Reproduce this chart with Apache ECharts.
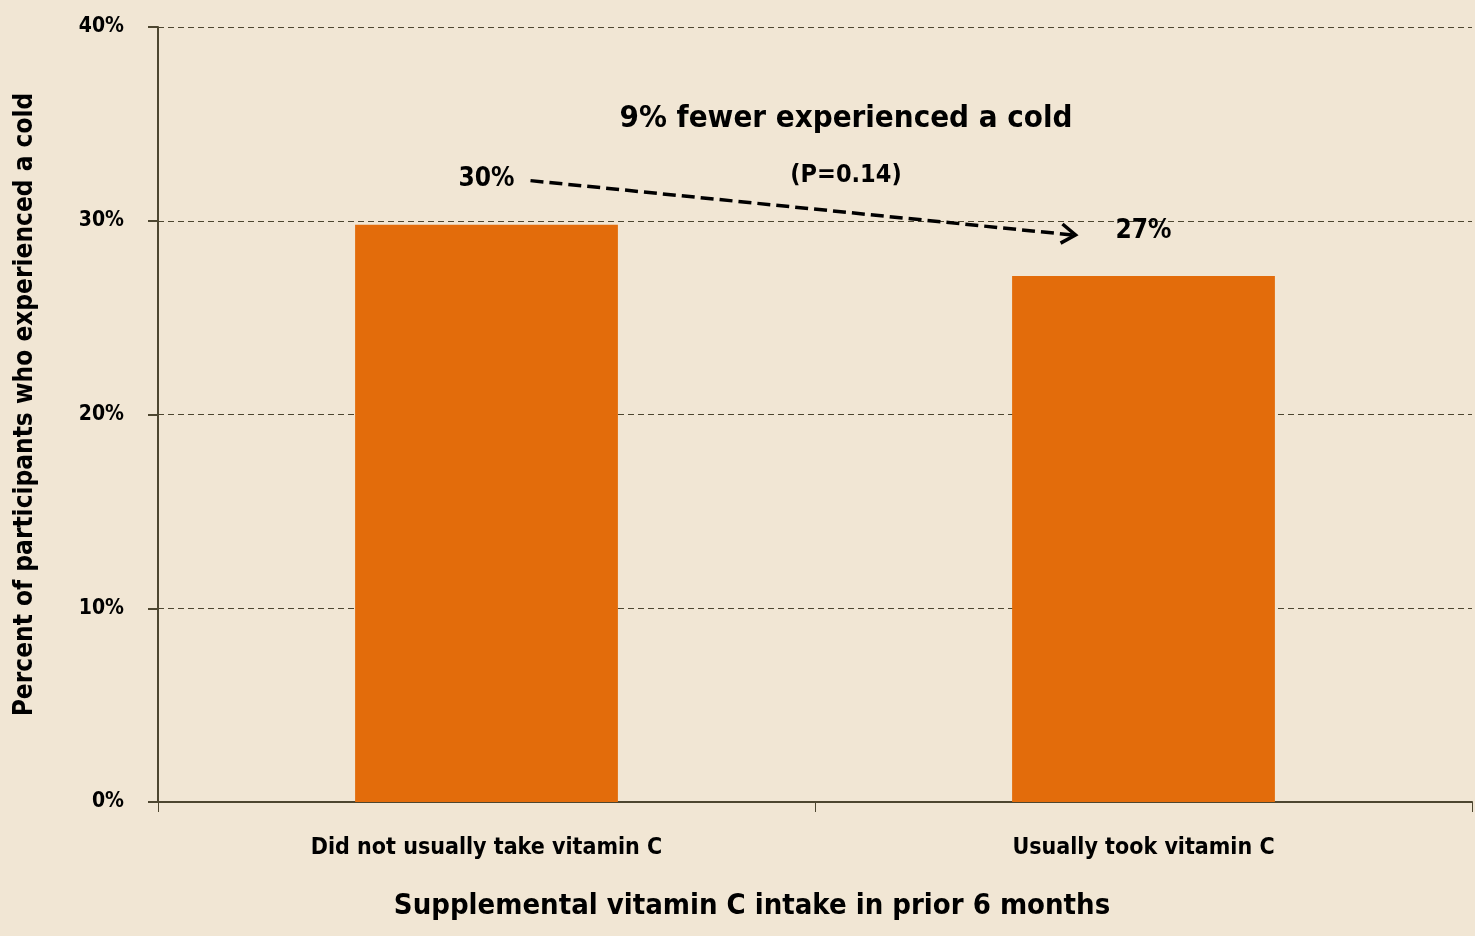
<!DOCTYPE html>
<html>
<head>
<meta charset="utf-8">
<script src="https://cdn.jsdelivr.net/npm/echarts@6/dist/echarts.min.js"></script>
<style>
html,body{margin:0;padding:0;background:#f1e6d4;}
#c{width:1475px;height:936px;}
</style>
</head>
<body>
<div id="c"></div>
<script>
const categories = ['Did not usually take vitamin C', 'Usually took vitamin C'];
const values = [29.8, 27.15];
const valueLabels = ['30%', '27%'];
const yTicks = [0, 10, 20, 30, 40];
const titleText = '9% fewer experienced a cold';
const subText = '(P=0.14)';
const yName = 'Percent of participants who experienced a cold';
const xName = 'Supplemental vitamin C intake in prior 6 months';

const FONT = '"Liberation Sans Narrow", "DejaVu Sans Condensed", sans-serif';
const AX = '#4d4630';
const chart = echarts.init(document.getElementById('c'), null, {renderer: 'canvas'});
const option = {
  backgroundColor: '#f1e6d4',
  animation: false,
  textStyle: {fontFamily: FONT},
  title: [
    {text: titleText, left: 841, top: 98, textAlign: 'center',
     textStyle: {fontFamily: FONT, fontSize: 31, fontWeight: 'bold', color: '#000'}},
    {text: subText, left: 841, top: 158, textAlign: 'center',
     textStyle: {fontFamily: FONT, fontSize: 25, fontWeight: 'bold', color: '#000'}}
  ],
  grid: {left: 158, right: 3, top: 27, bottom: 134, outerBoundsMode: 'none'},
  xAxis: {
    type: 'category', data: categories,
    axisLine: {lineStyle: {color: AX, width: 2}},
    axisTick: {show: true, length: 10, lineStyle: {color: AX, width: 1}},
    axisLabel: {color: '#000', fontSize: 23, fontWeight: 'bold', fontFamily: FONT, margin: 35},
    name: xName, nameLocation: 'middle', nameGap: 90,
    nameTextStyle: {color: '#000', fontSize: 29, fontWeight: 'bold', fontFamily: FONT,
      padding: [0, 126, 0, 0]}
  },
  yAxis: {
    type: 'value', min: 0, max: 40, interval: 10,
    axisLine: {show: true, lineStyle: {color: AX, width: 2}},
    axisTick: {show: true, length: 10, lineStyle: {color: AX, width: 2}},
    axisLabel: {color: '#000', fontSize: 21, fontWeight: 'bold', fontFamily: FONT, margin: 34,
      formatter: v => (yTicks.includes(v) ? v + '%' : '')},
    splitLine: {show: true, lineStyle: {color: AX, type: [6, 4], width: 1.2}},
    name: yName, nameLocation: 'middle', nameGap: 120, nameRotate: 90,
    nameTextStyle: {color: '#000', fontSize: 26, fontWeight: 'bold', fontFamily: FONT,
      padding: [0, 0, 0, 20]}
  },
  series: [{
    type: 'bar', data: values, barWidth: '40%',
    itemStyle: {color: '#e36c0b'},
    label: {show: true, position: 'top', distance: 32,
      formatter: p => valueLabels[p.dataIndex],
      color: '#000', fontSize: 26, fontWeight: 'bold', fontFamily: FONT}
  }]
};
chart.setOption(option);

const p0 = chart.convertToPixel({seriesIndex: 0}, [0, values[0]]);
const p1 = chart.convertToPixel({seriesIndex: 0}, [1, values[1]]);
const s = [p0[0] + 44, p0[1] - 44];
const e = [p1[0] - 68, p1[1] - 41];
const ang = Math.atan2(e[1] - s[1], e[0] - s[0]);
const hl = 17, ha = 0.6;
const h1 = [e[0] - hl * Math.cos(ang - ha), e[1] - hl * Math.sin(ang - ha)];
const h2 = [e[0] - hl * Math.cos(ang + ha), e[1] - hl * Math.sin(ang + ha)];
chart.setOption({
  graphic: [
    {type: 'line', shape: {x1: s[0], y1: s[1], x2: e[0] - 3, y2: e[1]},
     style: {stroke: '#000', lineWidth: 3.5, lineDash: [13, 6]}},
    {type: 'polyline', shape: {points: [h1, e, h2]},
     style: {stroke: '#000', lineWidth: 3.5, fill: null}}
  ]
});
</script>
</body>
</html>
